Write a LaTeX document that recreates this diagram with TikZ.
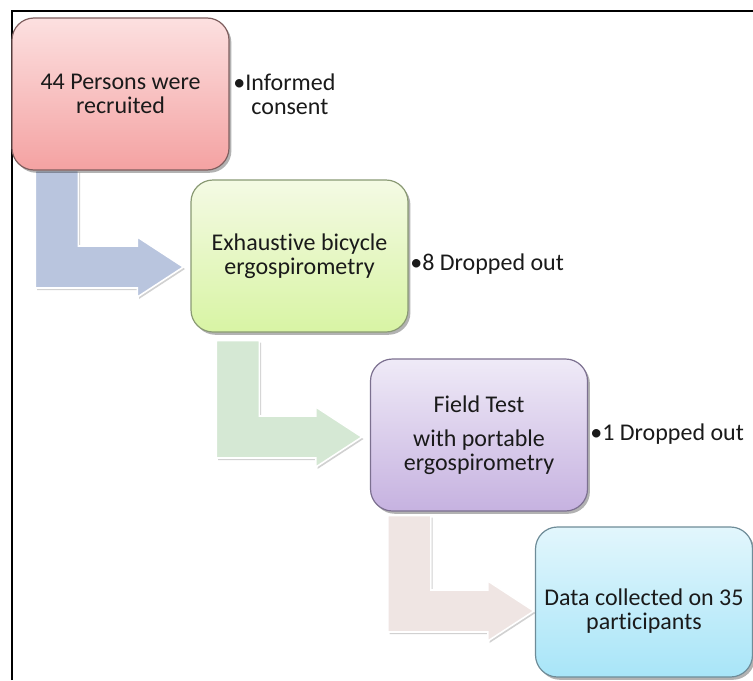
\documentclass[tikz,border=0pt]{standalone}
\usepackage{fontspec}
\setmainfont{Carlito}[Ligatures=NoCommon]
\usetikzlibrary{shadows,calc}
\definecolor{txt}{HTML}{1A1A1A}
\definecolor{rtop}{HTML}{FCE0E0}
\definecolor{rbot}{HTML}{F4A2A2}
\definecolor{rbrd}{HTML}{7F5F5F}
\definecolor{gtop}{HTML}{F4FAE4}
\definecolor{gbot}{HTML}{D8F4A4}
\definecolor{gbrd}{HTML}{8A9A74}
\definecolor{ptop}{HTML}{EFEAF7}
\definecolor{pbot}{HTML}{C6B2E0}
\definecolor{pbrd}{HTML}{7C7090}
\definecolor{ctop}{HTML}{E2F6FC}
\definecolor{cbot}{HTML}{A8E5F8}
\definecolor{cbrd}{HTML}{6E8C98}
\definecolor{aone}{HTML}{B9C5DE}
\definecolor{atwo}{HTML}{D5E8D4}
\definecolor{athree}{HTML}{EFE5E3}
\pgfdeclarelayer{bg}
\pgfsetlayers{bg,main}
\newcommand{\bentarrow}[3]{%
  \path[barrow, fill=#3] let \p1=(#1), \p2=(#2) in
    (\x1,\y1) -- (\x1+21.5pt,\y1) -- (\x1+21.5pt,\y2+10.5pt)
    -- (\x2-23pt,\y2+10.5pt) -- (\x2-23pt,\y2+15pt) -- (\x2,\y2)
    -- (\x2-23pt,\y2-15pt) -- (\x2-23pt,\y2-10.5pt) -- (\x1,\y2-10.5pt) -- cycle;
}
\begin{document}
\begin{tikzpicture}[x=0.5pt,y=-0.5pt,
  box/.style={rounded corners=11pt, minimum width=108.5pt, minimum height=76pt,
    align=center, inner sep=0pt, font=\fontsize{12}{12}\selectfont, text=txt,
    line width=0.6pt,
    drop shadow={shadow xshift=1.2pt, shadow yshift=-1.4pt, opacity=0.3, fill=black}},
  side/.style={inner sep=0pt, align=left, font=\fontsize{12}{12}\selectfont, text=txt},
  barrow/.style={draw=white, line width=0.8pt,
    drop shadow={shadow xshift=0.8pt, shadow yshift=-1pt, opacity=0.18, fill=black}}
]
\useasboundingbox (0,0) rectangle (753,680);

\node[box, top color=rtop, bottom color=rbot, draw=rbrd] (b1) at (120.5,94) {44 Persons were\\recruited};
\node[box, top color=gtop, bottom color=gbot, draw=gbrd] (b2) at (299.5,256) {Exhaustive bicycle\\ergospirometry};
\node[box, top color=ptop, bottom color=pbot, draw=pbrd] (b3) at (479,435) {Field Test\\[5pt]with portable\\ergospirometry};
\node[box, top color=ctop, bottom color=cbot, draw=cbrd, minimum height=75pt] (b4) at (644,602) {\rule{0pt}{17.5pt}Data collected on 35\\participants};

\node[side, anchor=north west] (s1) at (233,73) {•Informed\\\hspace*{9pt}consent};
\node[side, anchor=base west] (s2) at (410,270) {•8 Dropped out};
\node[side, anchor=base west] (s3) at (590,440) {•1 Dropped out};

\coordinate (a1s) at ($(b1.south west)+(24,0)$);
\coordinate (a1t) at ($(b2.west)+(-7,11)$);
\coordinate (a2s) at ($(b2.south west)+(26,8)$);
\coordinate (a2t) at ($(b3.west)+(-8,2)$);
\coordinate (a3s) at ($(b3.south west)+(18,4)$);
\coordinate (a3t) at ($(b4.west)+(-1,9)$);

\begin{pgfonlayer}{bg}
\fill[white] (0,0) rectangle (753,680);
\draw[line width=0.9pt, black] (12,680) -- (12,11) -- (753,11);
\bentarrow{a1s}{a1t}{aone}
\bentarrow{a2s}{a2t}{atwo}
\bentarrow{a3s}{a3t}{athree}
\end{pgfonlayer}
\end{tikzpicture}
\end{document}
